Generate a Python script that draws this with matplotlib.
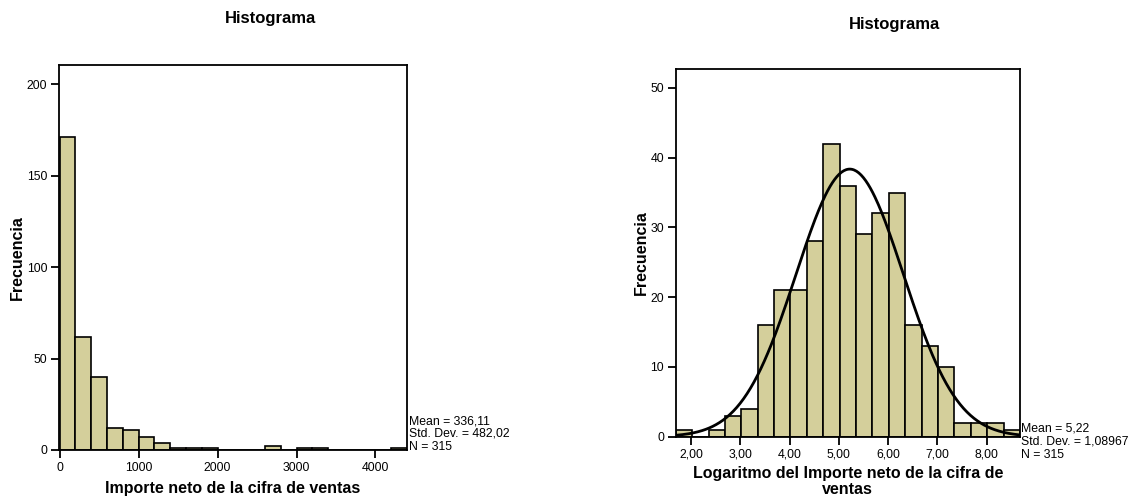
import numpy as np
import matplotlib
matplotlib.use("Agg")
import matplotlib.pyplot as plt

plt.rcParams["font.family"] = ["Liberation Sans", "DejaVu Sans"]

# histogram 1: importe neto de la cifra de ventas
ventas_width = 200
ventas_edges = np.arange(0, 4400, ventas_width)
ventas_counts = [171, 62, 40, 12, 11, 7, 4, 1, 1, 1, 0, 0, 0, 2, 0, 1, 1, 0, 0, 0, 0, 1]
ventas_ticks = [0, 1000, 2000, 3000, 4000]
ventas_stats = "Mean = 336,11\nStd. Dev. = 482,02\nN = 315"

# histogram 2: logaritmo
log_start = 1.69
log_width = 0.3326
log_counts = [1, 0, 1, 3, 4, 16, 21, 21, 28, 42, 36, 29, 32, 35, 16, 13, 10, 2, 2, 2, 1]
log_ticks = [2, 3, 4, 5, 6, 7, 8]
log_mean = 5.22
log_sd = 1.08967
log_n = 315
log_stats = "Mean = 5,22\nStd. Dev. = 1,08967\nN = 315"

bar_color = "#d4cf9b"

fig = plt.figure(figsize=(11.37, 4.97), dpi=100)

ax1 = fig.add_axes([0.0519, 0.0946, 0.3061, 0.7746])
ax2 = fig.add_axes([0.5943, 0.1213, 0.3028, 0.7398])


def style(ax):
    for s in ax.spines.values():
        s.set_linewidth(1.3)
    ax.tick_params(direction="out", length=6, width=1.3, labelsize=8.8, pad=2.5)


ax1.bar(ventas_edges, ventas_counts, width=ventas_width, align="edge",
        color=bar_color, edgecolor="black", linewidth=1.2)
ax1.set_xlim(-8, 4400)
ax1.set_ylim(0, 210.5)
ax1.set_yticks([0, 50, 100, 150, 200])
ax1.set_xticks(ventas_ticks)
ax1.set_xticklabels([str(t) for t in ventas_ticks])
ax1.set_ylabel("Frecuencia", fontsize=11.5, fontweight="bold", labelpad=1)
ax1.set_xlabel("Importe neto de la cifra de ventas", fontsize=11.5, fontweight="bold", labelpad=5)
style(ax1)
fig.text(0.2375, 0.963, "Histograma", fontsize=12, fontweight="bold", ha="center", va="center")
ax1.text(1.006, -0.007, ventas_stats, transform=ax1.transAxes, fontsize=8.8,
         ha="left", va="bottom", linespacing=1.08)

log_edges = log_start + log_width * np.arange(len(log_counts))
ax2.bar(log_edges, log_counts, width=log_width, align="edge",
        color=bar_color, edgecolor="black", linewidth=1.2)
xmin = log_start
xmax = log_start + log_width * len(log_counts)
xs = np.linspace(xmin, xmax, 300)
ys = log_n * log_width / (log_sd * np.sqrt(2 * np.pi)) * np.exp(-0.5 * ((xs - log_mean) / log_sd) ** 2)
ax2.plot(xs, ys, color="black", linewidth=2)
ax2.set_xlim(xmin, xmax)
ax2.set_ylim(0, 52.7)
ax2.set_yticks([0, 10, 20, 30, 40, 50])
ax2.set_xticks(log_ticks)
ax2.set_xticklabels([f"{t},00" for t in log_ticks])
ax2.set_ylabel("Frecuencia", fontsize=11.5, fontweight="bold", labelpad=1)
ax2.set_xlabel("Logaritmo del Importe neto de la cifra de\nventas", fontsize=11.5,
               fontweight="bold", labelpad=4, linespacing=1.1)
style(ax2)
fig.text(0.787, 0.95, "Histograma", fontsize=12, fontweight="bold", ha="center", va="center")
ax2.text(1.004, -0.065, log_stats, transform=ax2.transAxes, fontsize=8.8,
         ha="left", va="bottom", linespacing=1.12)

fig.savefig("out.png", dpi=100)
